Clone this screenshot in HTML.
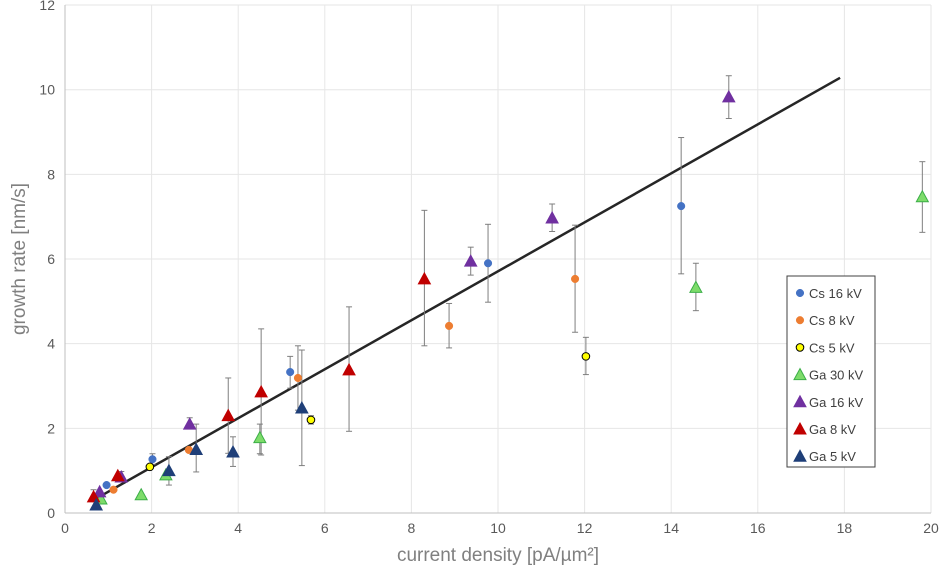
<!DOCTYPE html>
<html><head><meta charset="utf-8"><style>
body{margin:0;background:#fff}
svg{display:block;font-family:"Liberation Sans",sans-serif}
</style></head><body>
<svg id="c" width="942" height="568"></svg>
<script>
const xTicks=[0,2,4,6,8,10,12,14,16,18,20];
const yTicks=[0,2,4,6,8,10,12];
const csX16=[0.96,2.02,5.2,9.77,14.23], csY16=[0.66,1.27,3.33,5.9,7.25], csE16=[[0.66,0.66],[1.4,1.15],[3.7,2.95],[6.82,4.98],[8.87,5.65]];
const csX8=[1.12,2.86,5.38,8.87,11.78], csY8=[0.55,1.49,3.19,4.42,5.53], csE8=[[0.55,0.55],[1.49,1.49],[3.95,2.43],[4.95,3.9],[6.8,4.27]];
const csX5=[1.96,5.68,12.03], csY5=[1.09,2.2,3.7], csE5=[[1.09,1.09],[2.3,2.1],[4.15,3.27]];
const gaX30=[0.83,1.76,2.33,4.5,14.57,19.8], gaY30=[0.33,0.43,0.9,1.78,5.33,7.47], gaE30=[[0.33,0.33],[0.43,0.43],[0.9,0.9],[2.1,1.4],[5.9,4.78],[8.3,6.63]];
const gaX16=[0.8,1.3,2.88,9.37,11.25,15.33], gaY16=[0.5,0.85,2.1,5.95,6.97,9.83], gaE16=[[0.5,0.5],[0.98,0.85],[2.25,2.0],[6.28,5.62],[7.3,6.65],[10.33,9.32]];
const gaX8=[0.66,1.22,3.77,4.53,6.56,8.3], gaY8=[0.38,0.88,2.3,2.86,3.38,5.53], gaE8=[[0.55,0.38],[0.88,0.88],[3.19,1.41],[4.35,1.37],[4.87,1.93],[7.15,3.95]];
const gaX5=[0.72,2.4,3.03,3.88,5.47], gaY5=[0.19,1.0,1.5,1.44,2.48], gaE5=[[0.19,0.19],[1.33,0.66],[2.1,0.97],[1.8,1.1],[3.85,1.12]];
const trendX=[0.7,17.9], trendY=[0.33,10.28];
const series=[
 {name:"Cs 16 kV",x:csX16,y:csY16,e:csE16,shape:"c",fill:"#4472c4",stroke:"#4472c4"},
 {name:"Cs 8 kV",x:csX8,y:csY8,e:csE8,shape:"c",fill:"#ed7d31",stroke:"#ed7d31"},
 {name:"Cs 5 kV",x:csX5,y:csY5,e:csE5,shape:"c",fill:"#ffff00",stroke:"#000"},
 {name:"Ga 30 kV",x:gaX30,y:gaY30,e:gaE30,shape:"t",fill:"#7ddc6a",stroke:"#3cae48"},
 {name:"Ga 16 kV",x:gaX16,y:gaY16,e:gaE16,shape:"t",fill:"#7030a0",stroke:"#7030a0"},
 {name:"Ga 8 kV",x:gaX8,y:gaY8,e:gaE8,shape:"t",fill:"#c00000",stroke:"#c00000"},
 {name:"Ga 5 kV",x:gaX5,y:gaY5,e:gaE5,shape:"t",fill:"#1f3f78",stroke:"#1f3f78"}];
const X=v=>65+v*43.3, Y=v=>513-v*42.33;
const svg=document.getElementById('c'),NS="http://www.w3.org/2000/svg";
function mk(t,a,p){const e=document.createElementNS(NS,t);for(const k in a)e.setAttribute(k,a[k]);(p||svg).appendChild(e);return e;}
xTicks.forEach(v=>{const l=mk('line',{x1:X(v),x2:X(v),y1:Y(0),y2:Y(12),stroke:'#e6e6e6'});

const t=mk('text',{x:X(v),y:533,'text-anchor':'middle','font-size':14,fill:'#595959'});t.textContent=v;
});
yTicks.forEach(v=>{const l=mk('line',{x1:X(0),x2:X(20),y1:Y(v),y2:Y(v),stroke:'#e6e6e6'});

const t=mk('text',{x:55,y:Y(v)+5,'text-anchor':'end','font-size':14,fill:'#595959'});t.textContent=v;
});
const ax=mk('line',{x1:X(0),x2:X(20),y1:Y(0),y2:Y(0),stroke:'#bfbfbf'});
const ay=mk('line',{x1:X(0),x2:X(0),y1:Y(0),y2:Y(12),stroke:'#bfbfbf'});
const tr=mk('line',{x1:X(trendX[0]),y1:Y(trendY[0]),x2:X(trendX[1]),y2:Y(trendY[1]),stroke:'#262626','stroke-width':2.5});

series.forEach(s=>{s.x.forEach((xv,i)=>{const e=s.e[i];
 if(e[0]-e[1]>0.05){const g=mk('g',{stroke:'#7f7f7f','stroke-width':1});
 
 mk('line',{x1:X(xv),x2:X(xv),y1:Y(e[0]),y2:Y(e[1])},g);
 mk('line',{x1:X(xv)-3,x2:X(xv)+3,y1:Y(e[0]),y2:Y(e[0])},g);
 mk('line',{x1:X(xv)-3,x2:X(xv)+3,y1:Y(e[1]),y2:Y(e[1])},g);}});});
function marker(shape,cx,cy,fill,stroke,p){
 if(shape==='c')return mk('circle',{cx:cx,cy:cy,r:3.8,fill:fill,stroke:stroke,'stroke-width':stroke==='#000'?1:0.5},p);
 return mk('polygon',{points:`${cx},${cy-6} ${cx-6},${cy+5} ${cx+6},${cy+5}`,fill:fill,stroke:stroke,'stroke-width':1},p);}
series.forEach(s=>{s.x.forEach((xv,i)=>{const m=marker(s.shape,X(xv),Y(s.y[i]),s.fill,s.stroke);
 });});
const lg=mk('g',{});
mk('rect',{x:787,y:276,width:88,height:191,fill:'#fff',stroke:'#404040'},lg);
series.forEach((s,i)=>{const y=293+i*27.2;
 const m=marker(s.shape,800,y,s.fill,s.stroke,lg);
 
 const t=mk('text',{x:809,y:y+5,'font-size':13,fill:'#404040'},lg);t.textContent=s.name;
 });
const xt=mk('text',{x:498,y:561,'text-anchor':'middle','font-size':19,fill:'#808080'});xt.textContent='current density [pA/µm²]';

const yt=mk('text',{x:0,y:0,'text-anchor':'middle','font-size':19,fill:'#808080',transform:'translate(25,259) rotate(-90)'});yt.textContent='growth rate [nm/s]';

</script>
</body></html>
